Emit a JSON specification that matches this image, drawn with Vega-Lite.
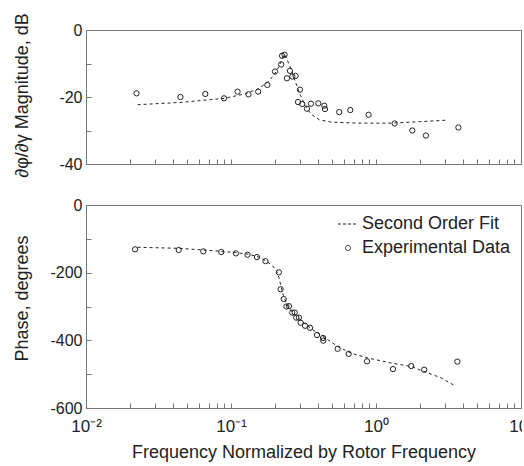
{
  "$schema": "https://vega.github.io/schema/vega-lite/v6.json",
  "padding": {"left": 12, "top": 12, "right": -12, "bottom": 0},
  "config": {
    "font": "Liberation Sans",
    "view": {"stroke": "#777", "strokeWidth": 1},
    "axis": {
      "grid": false, "domainColor": "#777", "tickColor": "#777", "tickSize": -5,
      "labelFontSize": 16, "titleFontSize": 18, "labelColor": "#222", "titleColor": "#222",
      "titleFontWeight": "normal", "labelFont": "Liberation Sans", "titleFont": "Liberation Sans"
    },
    "legend": {"labelFont": "Liberation Sans", "labelFontSize": 18, "labelColor": "#222"}
  },
  "datasets": {
    "magFit": [
      {"f": 0.0227, "v": -22.3}, {"f": 0.0452, "v": -21.6}, {"f": 0.0899, "v": -20.4},
      {"f": 0.124, "v": -19.1}, {"f": 0.153, "v": -17.6}, {"f": 0.179, "v": -15.6},
      {"f": 0.199, "v": -13.3}, {"f": 0.216, "v": -10.6}, {"f": 0.227, "v": -8.2},
      {"f": 0.233, "v": -7.2}, {"f": 0.243, "v": -8.7}, {"f": 0.259, "v": -11.6},
      {"f": 0.276, "v": -15.1}, {"f": 0.296, "v": -18.6}, {"f": 0.320, "v": -22.1},
      {"f": 0.356, "v": -25.1}, {"f": 0.407, "v": -26.8}, {"f": 0.490, "v": -27.5},
      {"f": 0.748, "v": -27.8}, {"f": 1.27, "v": -27.8}, {"f": 2.15, "v": -27.3},
      {"f": 3.12, "v": -26.9}
    ],
    "magExp": [
      {"f": 0.0223, "v": -18.9}, {"f": 0.0448, "v": -20.0}, {"f": 0.0665, "v": -19.1},
      {"f": 0.0895, "v": -20.4}, {"f": 0.111, "v": -18.4}, {"f": 0.132, "v": -19.2},
      {"f": 0.154, "v": -18.4}, {"f": 0.178, "v": -16.4}, {"f": 0.201, "v": -12.4},
      {"f": 0.222, "v": -10.3}, {"f": 0.225, "v": -7.7}, {"f": 0.234, "v": -7.4},
      {"f": 0.243, "v": -14.4}, {"f": 0.255, "v": -12.2}, {"f": 0.265, "v": -13.9},
      {"f": 0.279, "v": -13.7}, {"f": 0.299, "v": -17.8}, {"f": 0.290, "v": -21.5},
      {"f": 0.310, "v": -22.1}, {"f": 0.334, "v": -23.5}, {"f": 0.356, "v": -22.0},
      {"f": 0.400, "v": -21.9}, {"f": 0.440, "v": -22.6}, {"f": 0.445, "v": -23.6},
      {"f": 0.558, "v": -24.5}, {"f": 0.665, "v": -23.9}, {"f": 0.889, "v": -25.3},
      {"f": 1.345, "v": -27.9}, {"f": 1.78, "v": -30.0}, {"f": 2.21, "v": -31.5},
      {"f": 3.70, "v": -29.1}
    ],
    "phaseFit": [
      {"f": 0.0227, "v": -125, "series": "Second Order Fit"},
      {"f": 0.0436, "v": -128, "series": "Second Order Fit"},
      {"f": 0.0644, "v": -133, "series": "Second Order Fit"},
      {"f": 0.0857, "v": -137, "series": "Second Order Fit"},
      {"f": 0.108, "v": -141, "series": "Second Order Fit"},
      {"f": 0.130, "v": -145, "series": "Second Order Fit"},
      {"f": 0.151, "v": -152, "series": "Second Order Fit"},
      {"f": 0.173, "v": -164, "series": "Second Order Fit"},
      {"f": 0.194, "v": -180, "series": "Second Order Fit"},
      {"f": 0.207, "v": -197, "series": "Second Order Fit"},
      {"f": 0.215, "v": -216, "series": "Second Order Fit"},
      {"f": 0.221, "v": -241, "series": "Second Order Fit"},
      {"f": 0.230, "v": -268, "series": "Second Order Fit"},
      {"f": 0.243, "v": -295, "series": "Second Order Fit"},
      {"f": 0.264, "v": -316, "series": "Second Order Fit"},
      {"f": 0.288, "v": -332, "series": "Second Order Fit"},
      {"f": 0.320, "v": -349, "series": "Second Order Fit"},
      {"f": 0.366, "v": -369, "series": "Second Order Fit"},
      {"f": 0.440, "v": -391, "series": "Second Order Fit"},
      {"f": 0.544, "v": -418, "series": "Second Order Fit"},
      {"f": 0.673, "v": -438, "series": "Second Order Fit"},
      {"f": 0.877, "v": -452, "series": "Second Order Fit"},
      {"f": 1.27, "v": -467, "series": "Second Order Fit"},
      {"f": 1.74, "v": -477, "series": "Second Order Fit"},
      {"f": 2.15, "v": -492, "series": "Second Order Fit"},
      {"f": 2.81, "v": -511, "series": "Second Order Fit"},
      {"f": 3.56, "v": -536, "series": "Second Order Fit"}
    ],
    "phaseExp": [
      {"f": 0.0218, "v": -131, "series": "Experimental Data"},
      {"f": 0.0436, "v": -133, "series": "Experimental Data"},
      {"f": 0.0644, "v": -137, "series": "Experimental Data"},
      {"f": 0.0857, "v": -139, "series": "Experimental Data"},
      {"f": 0.108, "v": -143, "series": "Experimental Data"},
      {"f": 0.130, "v": -147, "series": "Experimental Data"},
      {"f": 0.151, "v": -154, "series": "Experimental Data"},
      {"f": 0.173, "v": -166, "series": "Experimental Data"},
      {"f": 0.214, "v": -199, "series": "Experimental Data"},
      {"f": 0.220, "v": -249, "series": "Experimental Data"},
      {"f": 0.231, "v": -278, "series": "Experimental Data"},
      {"f": 0.241, "v": -300, "series": "Experimental Data"},
      {"f": 0.251, "v": -299, "series": "Experimental Data"},
      {"f": 0.264, "v": -318, "series": "Experimental Data"},
      {"f": 0.275, "v": -318, "series": "Experimental Data"},
      {"f": 0.282, "v": -333, "series": "Experimental Data"},
      {"f": 0.294, "v": -333, "series": "Experimental Data"},
      {"f": 0.302, "v": -348, "series": "Experimental Data"},
      {"f": 0.324, "v": -357, "series": "Experimental Data"},
      {"f": 0.351, "v": -363, "series": "Experimental Data"},
      {"f": 0.392, "v": -384, "series": "Experimental Data"},
      {"f": 0.431, "v": -393, "series": "Experimental Data"},
      {"f": 0.433, "v": -401, "series": "Experimental Data"},
      {"f": 0.544, "v": -425, "series": "Experimental Data"},
      {"f": 0.648, "v": -440, "series": "Experimental Data"},
      {"f": 0.867, "v": -462, "series": "Experimental Data"},
      {"f": 1.31, "v": -485, "series": "Experimental Data"},
      {"f": 1.75, "v": -476, "series": "Experimental Data"},
      {"f": 2.15, "v": -487, "series": "Experimental Data"},
      {"f": 3.64, "v": -463, "series": "Experimental Data"}
    ]
  },
  "spacing": 18,
  "resolve": {"legend": {"color": "independent"}, "scale": {"color": "independent"}},
  "vconcat": [
    {
      "width": 435,
      "height": 134,
      "encoding": {
        "x": {"field": "f", "type": "quantitative",
          "scale": {"type": "log", "domain": [0.01, 10]},
          "axis": {"values": [0.01,0.02,0.03,0.04,0.05,0.06,0.07,0.08,0.09,0.1,0.2,0.3,0.4,0.5,0.6,0.7,0.8,0.9,1,2,3,4,5,6,7,8,9,10], "labels": false, "title": null}},
        "y": {"field": "v", "type": "quantitative",
          "scale": {"domain": [-40, 0], "nice": false},
          "axis": {"values": [0, -10, -20, -30, -40], "labelExpr": "datum.value % 20 === 0 ? '' + datum.value : ''",
            "labelPadding": 9, "title": "∂φ/∂γ Magnitude, dB", "titleX": -55, "titleY": 65}}
      },
      "layer": [
        {"data": {"name": "magFit"}, "mark": {"type": "line", "strokeDash": [3, 3], "color": "#222", "strokeWidth": 1}},
        {"data": {"name": "magExp"}, "mark": {"type": "point", "shape": "circle", "color": "#222", "size": 28, "strokeWidth": 1, "opacity": 1}}
      ]
    },
    {
      "width": 435,
      "height": 203,
      "encoding": {
        "x": {"field": "f", "type": "quantitative",
          "scale": {"type": "log", "domain": [0.01, 10]},
          "axis": {"values": [0.01,0.02,0.03,0.04,0.05,0.06,0.07,0.08,0.09,0.1,0.2,0.3,0.4,0.5,0.6,0.7,0.8,0.9,1,2,3,4,5,6,7,8,9,10],
            "labelExpr": "datum.value === 0.01 ? '10⁻²' : datum.value === 0.1 ? '10⁻¹' : datum.value === 1 ? '10⁰' : datum.value === 10 ? '10¹' : ''",
            "labelFlush": false, "labelPadding": 15, "labelFontSize": 17, "title": "Frequency Normalized by Rotor Frequency", "titlePadding": 9}},
        "y": {"field": "v", "type": "quantitative",
          "scale": {"domain": [-600, 0], "nice": false},
          "axis": {"values": [0, -100, -200, -300, -400, -500, -600], "labelExpr": "datum.value % 200 === 0 ? '' + datum.value : ''",
            "labelPadding": 9, "title": "Phase, degrees", "titleX": -55, "titleY": 93}},
        "color": {"field": "series", "type": "nominal",
          "scale": {"domain": ["Second Order Fit", "Experimental Data"], "range": ["#222", "#222"]},
          "legend": {"orient": "top-right", "offset": 10, "title": null, "rowPadding": 6, "symbolSize": 400, "labelOffset": 5,
            "encode": {"symbols": {"update": {
              "shape": {"signal": "datum.value === 'Second Order Fit' ? 'stroke' : 'circle'"},
              "strokeDash": {"signal": "datum.value === 'Second Order Fit' ? [3, 2] : [1, 0]"},
              "size": {"signal": "datum.value === 'Second Order Fit' ? 400 : 25"},
              "fill": {"value": "transparent"},
              "stroke": {"value": "#222"},
              "strokeWidth": {"value": 1}
            }}}}}
      },
      "layer": [
        {"data": {"name": "phaseFit"}, "mark": {"type": "line", "strokeDash": [3, 3], "strokeWidth": 1}},
        {"data": {"name": "phaseExp"}, "mark": {"type": "point", "shape": "circle", "size": 28, "strokeWidth": 1, "opacity": 1}}
      ]
    }
  ]
}
